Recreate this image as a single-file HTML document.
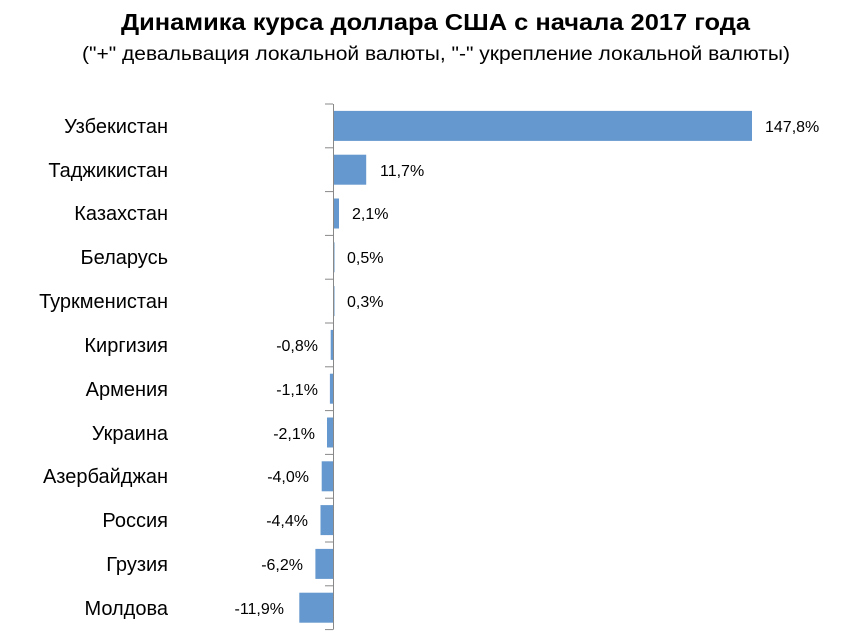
<!DOCTYPE html>
<html><head><meta charset="utf-8"><style>
body{margin:0;background:#fff;width:842px;height:635px;overflow:hidden}
</style></head><body>
<svg width="842" height="635" xmlns="http://www.w3.org/2000/svg" font-family="Liberation Sans, DejaVu Sans, sans-serif">
<text x="121" y="30" font-size="23" font-weight="bold" textLength="629" lengthAdjust="spacingAndGlyphs">Динамика курса доллара США с начала 2017 года</text>
<text x="82" y="60" font-size="19" textLength="708" lengthAdjust="spacingAndGlyphs">("+" девальвация локальной валюты, "-" укрепление локальной валюты)</text>
<g fill="#6598ce">
<rect x="333" y="110.9" width="419" height="30"/>
<rect x="333" y="154.7" width="33.2" height="30"/>
<rect x="333" y="198.5" width="6" height="30"/>
<rect x="333" y="242.3" width="1.5" height="30"/>
<rect x="333" y="286.1" width="1.5" height="30"/>
<rect x="330.7" y="329.9" width="2.3" height="30"/>
<rect x="329.9" y="373.7" width="3.1" height="30"/>
<rect x="327" y="417.5" width="6" height="30"/>
<rect x="321.7" y="461.3" width="11.3" height="30"/>
<rect x="320.5" y="505.1" width="12.5" height="30"/>
<rect x="315.4" y="548.9" width="17.6" height="30"/>
<rect x="299.3" y="592.7" width="33.7" height="30"/>
</g>
<g font-size="20" text-anchor="end">
<text x="168" y="133">Узбекистан</text>
<text x="168" y="177">Таджикистан</text>
<text x="168" y="220">Казахстан</text>
<text x="168" y="264">Беларусь</text>
<text x="168" y="308">Туркменистан</text>
<text x="168" y="352">Киргизия</text>
<text x="168" y="396">Армения</text>
<text x="168" y="440">Украина</text>
<text x="168" y="483">Азербайджан</text>
<text x="168" y="527">Россия</text>
<text x="168" y="571">Грузия</text>
<text x="168" y="615">Молдова</text>
</g>
<g font-size="16">
<text x="765" y="132">147,8%</text>
<text x="380" y="176">11,7%</text>
<text x="352" y="219">2,1%</text>
<text x="347" y="263">0,5%</text>
<text x="347" y="307">0,3%</text>
</g>
<g font-size="16" text-anchor="end">
<text x="318" y="351">-0,8%</text>
<text x="318" y="395">-1,1%</text>
<text x="315" y="439">-2,1%</text>
<text x="309" y="482">-4,0%</text>
<text x="308" y="526">-4,4%</text>
<text x="303" y="570">-6,2%</text>
<text x="284" y="614">-11,9%</text>
</g>
<g stroke="#888">
<line x1="333.5" y1="104" x2="333.5" y2="629.6"/>
<line x1="325" y1="104" x2="333" y2="104"/>
<line x1="325" y1="147.8" x2="333" y2="147.8"/>
<line x1="325" y1="191.6" x2="333" y2="191.6"/>
<line x1="325" y1="235.4" x2="333" y2="235.4"/>
<line x1="325" y1="279.2" x2="333" y2="279.2"/>
<line x1="325" y1="323" x2="333" y2="323"/>
<line x1="325" y1="366.8" x2="333" y2="366.8"/>
<line x1="325" y1="410.6" x2="333" y2="410.6"/>
<line x1="325" y1="454.4" x2="333" y2="454.4"/>
<line x1="325" y1="498.2" x2="333" y2="498.2"/>
<line x1="325" y1="542" x2="333" y2="542"/>
<line x1="325" y1="585.8" x2="333" y2="585.8"/>
<line x1="325" y1="629.6" x2="333" y2="629.6"/>
</g>
</svg>
</body></html>
